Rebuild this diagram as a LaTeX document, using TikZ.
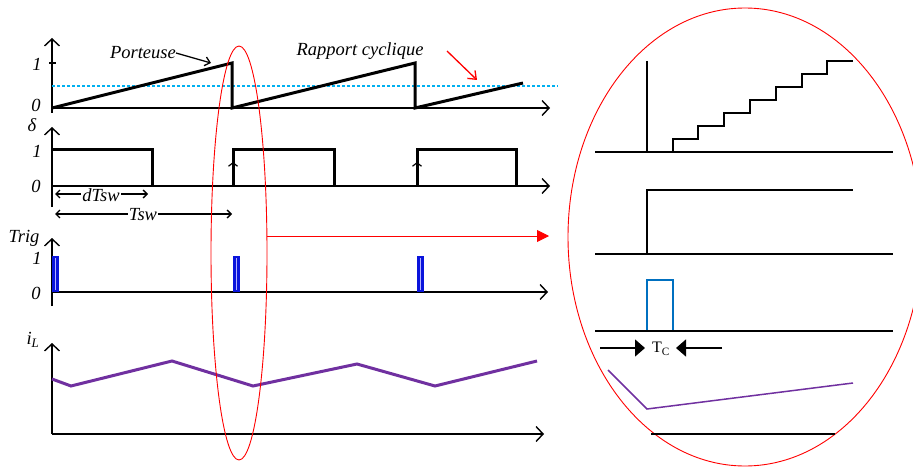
\documentclass[tikz,border=0pt]{standalone}
\usepackage{fontspec}
\setmainfont{Liberation Serif}
\usetikzlibrary{arrows.meta,shapes.geometric}
\definecolor{cyanl}{RGB}{0,176,240}
\definecolor{purp}{RGB}{112,48,160}
\definecolor{trigblue}{RGB}{10,20,220}
\definecolor{tcblue}{RGB}{0,112,192}
\tikzset{
  axis/.style={line width=1.4pt,-{Straight Barb[length=7pt,width=15pt,line width=1.4pt]}},
  sig/.style={line width=3pt,line join=miter},
  lab/.style={font=\itshape\fontsize{18.5}{18.5}\selectfont,inner sep=0pt},
  dim/.style={line width=1.3pt,{Straight Barb[length=4pt,width=8pt]}-{Straight Barb[length=4pt,width=8pt]}},
  zline/.style={line width=1.5pt},
  tcarrow/.style={line width=1.5pt,-{Triangle[length=10pt,width=17pt]}},
  edgearrow/.style={line width=1.2pt,-{Straight Barb[length=3.5pt,width=9pt,line width=1.2pt]}},
}
\begin{document}
\begin{tikzpicture}[x=1pt,y=-1pt]
\useasboundingbox (0,0) rectangle (913,468);
% ---------- Plot 1: carrier ----------
\draw[axis] (52,113) -- (52,38);
\draw[axis] (52,108) -- (550,108);
\draw[line width=1.2pt] (49,63) -- (56,63);
\draw[cyanl,line width=2pt,dash pattern=on 3pt off 2pt] (52,86) -- (558,86);
\draw[sig] (52,108) -- (232,63) -- (232,108) -- (415,63) -- (415,108) -- (523,83);
\node[lab] (p1one) at (37,64) {1};
\node[lab] (p1zero) at (36,105) {0};
\node[lab,anchor=east] (port) at (176,53) {Porteuse};
\coordinate (portTip) at (211,63);
\draw[line width=1.3pt,-{Straight Barb[length=5pt,width=9pt]}] (port.east) -- (portTip);
\node[lab] (rapp) at (360,51) {Rapport cyclique};
\coordinate (rA) at (447,51);
\coordinate (rB) at (477,80);
\draw[red,line width=1.3pt,-{Straight Barb[length=7pt,width=11pt]}] (rA) -- (rB);
% ---------- Plot 2: delta ----------
\draw[axis] (52,207) -- (52,127);
\draw[axis] (52,186) -- (550,186);
\draw[sig] (52,150) -- (152,150) -- (152,186);
\draw[sig] (233,186) -- (233,150) -- (334,150) -- (334,186);
\draw[sig] (417,186) -- (417,150) -- (516,150) -- (516,186);
\draw[edgearrow] (233,172) -- (233,162);
\draw[edgearrow] (417,172) -- (417,162);
\node[lab] (delta) at (32,125) {δ};
\node[lab] (p2one) at (37,151) {1};
\node[lab] (p2zero) at (36,186) {0};
\coordinate (dA) at (55,194);
\coordinate (dB) at (148,194);
\draw[dim] (dA) -- (dB);
\node[lab,fill=white,inner sep=1pt] (dtsw) at (101,195) {dTsw};
\coordinate (tA) at (55,214);
\coordinate (tB) at (232,214);
\draw[dim] (tA) -- (tB);
\node[lab,fill=white,inner sep=1pt] (tsw) at (143,215) {Tsw};
% ---------- Plot 3: Trig ----------
\draw[axis] (52,306) -- (52,238);
\draw[axis] (52,292) -- (548,292);
\foreach \x in {52,233,417}{
  \draw[trigblue,line width=2.2pt,fill=blue!30!white] (\x+1.5,291) rectangle (\x+5.5,257);
}
\node[lab] (trig) at (24,238) {Trig};
\node[lab] (p3one) at (37,258) {1};
\node[lab] (p3zero) at (36,293) {0};
% ---------- Plot 4: iL ----------
\draw[axis] (52,434) -- (52,343);
\draw[axis] (52,434) -- (544,434);
\draw[purp,line width=3pt,line join=miter] (52,379) -- (71,386) -- (172,361) -- (253,386) -- (357,364) -- (435,386) -- (537,361);
\node[lab] (il) at (33,340) {i\textsubscript{L}};
% ---------- small red ellipse + arrow ----------
\node[draw=red,line width=0.9pt,ellipse,minimum width=56pt,minimum height=414pt,inner sep=0pt] (ell) at (239,253) {};
\coordinate (eR) at (267,236);
\coordinate (arrTip) at (549,236);
\draw[red,line width=0.9pt,-{Triangle[length=12pt,width=12pt]}] (eR) -- (arrTip);
% ---------- zoomed view ----------
\begin{scope}
\clip (0,0) rectangle (913,468);
\draw[red,line width=0.9pt] (745,237) ellipse [x radius=177pt,y radius=229pt];
\end{scope}
% staircase
\draw[zline] (595,152) -- (893,152);
\draw[zline] (647,61) -- (647,152);
\draw[zline] (647,152) -- (673,152) -- (673,139) -- (698,139) -- (698,126) -- (724,126) -- (724,113) -- (750,113) -- (750,100) -- (776,100) -- (776,87) -- (802,87) -- (802,74) -- (827,74) -- (827,61) -- (853,61);
% step
\draw[zline] (647,254) -- (647,190) -- (853,190);
\draw[zline] (595,254) -- (893,254);
% pulse
\draw[tcblue,line width=1.5pt] (647,331) -- (647,280) -- (673,280) -- (673,331);
\draw[zline] (595,331) -- (893,331);
% Tc
\coordinate (tcL0) at (600,348);
\coordinate (tcL1) at (645,348);
\coordinate (tcR0) at (722,348);
\coordinate (tcR1) at (676,348);
\draw[tcarrow] (tcL0) -- (tcL1);
\draw[tcarrow] (tcR0) -- (tcR1);
\node[font=\fontsize{16}{16}\selectfont,inner sep=0pt] (tc) at (661,349) {T\textsubscript{C}};
% current
\draw[purp,line width=1.5pt] (608,370) -- (647,409) -- (853,383);
\draw[zline] (651,434) -- (835,434);
\end{tikzpicture}
\end{document}
